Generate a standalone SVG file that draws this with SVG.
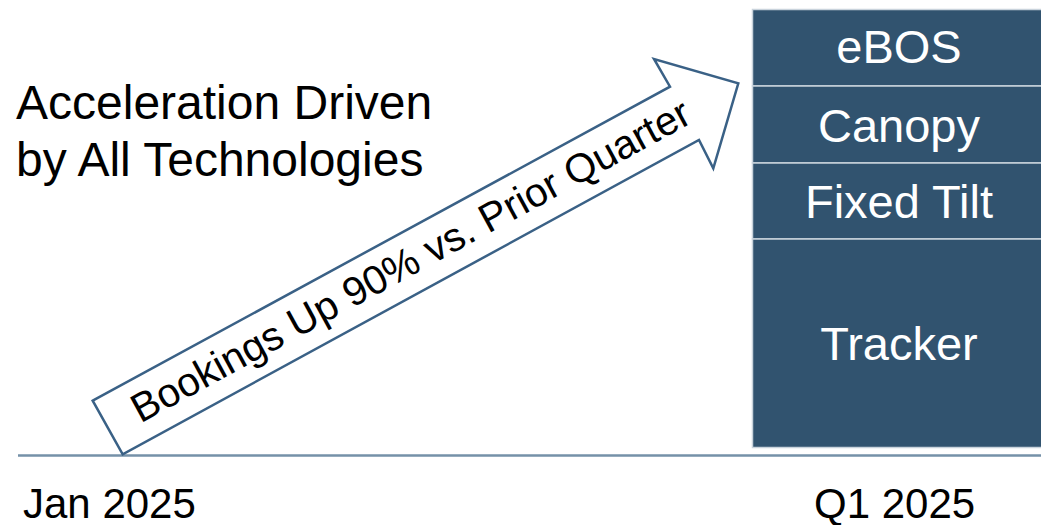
<svg xmlns="http://www.w3.org/2000/svg" width="1041" height="525" viewBox="0 0 1041 525">
  <style>
    text { font-family: "Liberation Sans", Arial, sans-serif; }
    .dark { fill: #000000; }
    .seg { fill: #31536f; stroke: #c9d3dc; stroke-width: 1.5; }
    .seglabel { fill: #ffffff; font-size: 47px; text-anchor: middle; }
    .axis { stroke: #7591a8; stroke-width: 2.5; fill: none; }
    .arrow { fill: #ffffff; stroke: #3a6186; stroke-width: 2.5; stroke-linejoin: miter; }
  </style>

  <rect width="1041" height="525" fill="#ffffff"/>

  <!-- heading -->
  <g id="heading">
    <text class="dark" x="16" y="119" font-size="48">Acceleration Driven</text>
    <text class="dark" x="16" y="176" font-size="48">by All Technologies</text>
  </g>

  <!-- time axis -->
  <g id="connectors">
    <line class="axis" x1="18" y1="455.5" x2="1041" y2="455.5"/>
  </g>

  <!-- growth arrow -->
  <g id="growth-arrow">
    <polygon class="arrow" points="92.7,400.7 670,86.7 654,59 738.3,83.3 713.3,168.3 699,140 122.7,454.3"/>
    <text class="dark" font-size="40.5" transform="translate(140.5,423.5) rotate(-28.6)">Bookings Up 90% vs. Prior Quarter</text>
  </g>

  <!-- stacked bookings bar -->
  <g id="seg-ebos">
    <rect class="seg" x="752.5" y="9.5" width="295" height="76.5"/>
    <text class="seglabel" x="899" y="63">eBOS</text>
  </g>
  <g id="seg-canopy">
    <rect class="seg" x="752.5" y="86" width="295" height="77"/>
    <text class="seglabel" x="899" y="141.5">Canopy</text>
  </g>
  <g id="seg-fixed-tilt">
    <rect class="seg" x="752.5" y="163" width="295" height="76"/>
    <text class="seglabel" x="899" y="218">Fixed Tilt</text>
  </g>
  <g id="seg-tracker">
    <rect class="seg" x="752.5" y="239" width="295" height="208.5"/>
    <text class="seglabel" x="899" y="360">Tracker</text>
  </g>

  <!-- axis labels -->
  <g id="label-jan">
    <text class="dark" x="23" y="518" font-size="42">Jan 2025</text>
  </g>
  <g id="label-q1">
    <text class="dark" x="814" y="518" font-size="42">Q1 2025</text>
  </g>
</svg>
